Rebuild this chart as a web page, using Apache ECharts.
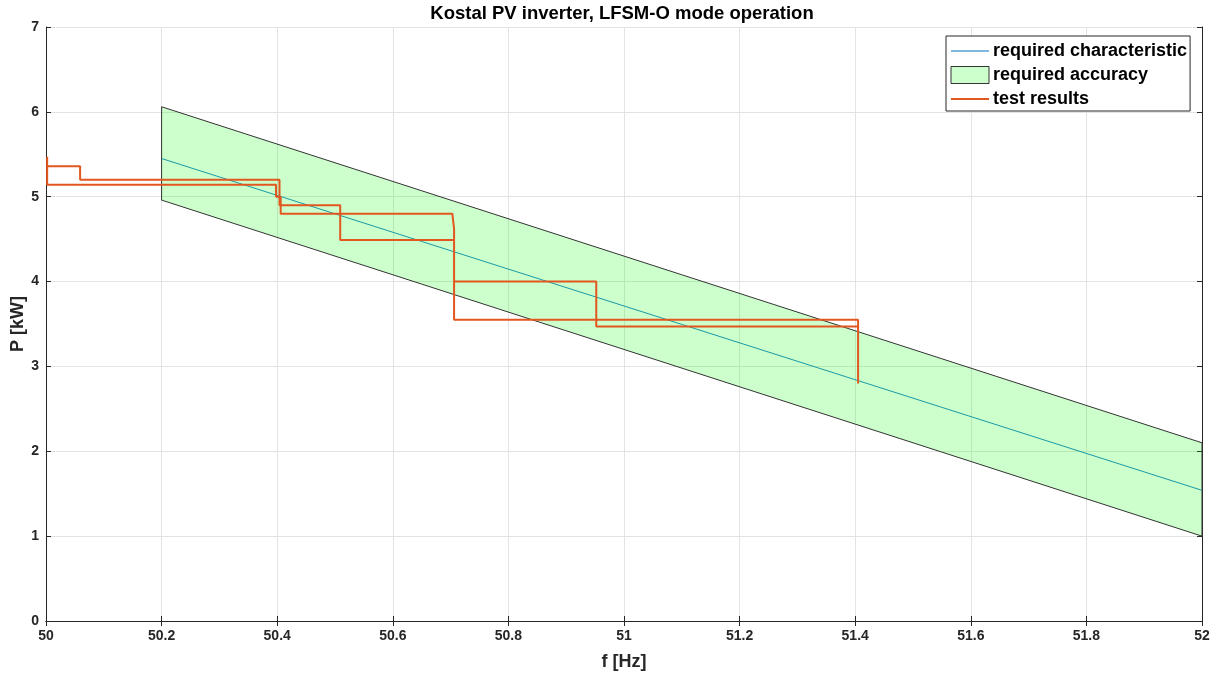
<!DOCTYPE html>
<html>
<head>
<meta charset="utf-8">
<title>Kostal PV inverter, LFSM-O mode operation</title>
<script src="https://cdn.jsdelivr.net/npm/echarts@6/dist/echarts.min.js"></script>
<style>
  html, body { margin: 0; padding: 0; background: #ffffff; }
  #chart { width: 1221px; height: 673px; }
</style>
</head>
<body>
<div id="chart"></div>
<script>
// Required P(f) characteristic for LFSM-O
const charFreq = [50.2, 52.0];
const charPower = [5.45, 1.54];

// Tolerance band around the characteristic
const bandFreq = [50.2, 52.0];
const bandUpper = [6.06, 2.10];
const bandLower = [4.96, 1.00];

// Measured trace (frequency ramp up, then back down)
const testFreq = [50.002, 50.002, 50.059, 50.059, 50.404, 50.404, 50.509, 50.509, 50.706, 50.706,
                  50.952, 50.952, 51.405, 51.405, 51.405, 50.706, 50.706, 50.703, 50.703, 50.406,
                  50.406, 50.398, 50.398, 50.002, 50.002];
const testPower = [5.47, 5.36, 5.36, 5.20, 5.20, 4.90, 4.90, 4.49, 4.49, 4.00,
                   4.00, 3.47, 3.47, 2.80, 3.55, 3.55, 4.62, 4.62, 4.80, 4.80,
                   5.00, 5.00, 5.14, 5.14, 5.36];

const seriesNames = ['required characteristic', 'required accuracy', 'test results'];

const FONT = '"Liberation Sans", Arial, Helvetica, sans-serif';
const INK = '#262626';

const chart = echarts.init(document.getElementById('chart'), null, { renderer: 'canvas' });

const bandData = bandFreq.map((f, i) => [f, bandUpper[i], bandLower[i]]);
const charData = charFreq.map((f, i) => [f, charPower[i]]);
const testData = testFreq.map((f, i) => [f, testPower[i]]);

const axisCommon = {
  axisLine: { show: true, lineStyle: { color: INK, width: 1 } },
  axisTick: { show: true, inside: true, length: 5, lineStyle: { color: INK } }
};

// legend line entries: line only, no marker
const noMarker = { color: 'rgba(0,0,0,0)', borderWidth: 0, opacity: 0 };

chart.setOption({
  animation: false,
  backgroundColor: '#ffffff',
  title: {
    text: 'Kostal PV inverter, LFSM-O mode operation',
    left: 617,
    textAlign: 'center',
    top: -1,
    textStyle: { fontFamily: FONT, fontSize: 18.5, fontWeight: 'bold', color: '#000' }
  },
  legend: {
    orient: 'vertical',
    left: 946,
    top: 36,
    padding: [6, 3, 3, 4],
    itemWidth: 38,
    itemHeight: 17,
    itemGap: 6,
    backgroundColor: '#ffffff',
    borderColor: INK,
    borderWidth: 1,
    textStyle: { fontFamily: FONT, fontSize: 18, fontWeight: 'bold', color: '#000', padding: [0, 0, 0, -1] },
    data: [
      { name: seriesNames[0], itemStyle: noMarker, lineStyle: { color: '#0072BD', width: 1 } },
      { name: seriesNames[1], icon: 'rect', itemStyle: { color: '#ccffcc', borderColor: '#333333', borderWidth: 1 } },
      { name: seriesNames[2], itemStyle: noMarker, lineStyle: { color: '#e2571f', width: 2 } }
    ]
  },
  grid: { left: 46, right: 19, top: 27, bottom: 52, show: false, containLabel: false, outerBoundsMode: 'none' },
  xAxis: [
    Object.assign({
      type: 'value', min: 50, max: 52, interval: 0.2, position: 'bottom',
      name: 'f [Hz]', nameLocation: 'middle', nameGap: 32, nameMoveOverlap: false,
      nameTextStyle: { fontFamily: FONT, fontSize: 18, fontWeight: 'bold', color: INK },
      axisLabel: { margin: 8, fontFamily: FONT, fontSize: 14, fontWeight: 'bold', color: INK },
      splitLine: { show: true, lineStyle: { color: '#e3e3e3', width: 1 } }
    }, axisCommon),
    Object.assign({
      type: 'value', min: 50, max: 52, interval: 0.2, position: 'top',
      axisLabel: { show: false }, splitLine: { show: false }
    }, axisCommon)
  ],
  yAxis: [
    Object.assign({
      type: 'value', min: 0, max: 7, interval: 1, position: 'left',
      name: 'P [kW]', nameLocation: 'middle', nameGap: 19, nameMoveOverlap: false,
      nameTextStyle: { fontFamily: FONT, fontSize: 18, fontWeight: 'bold', color: INK },
      axisLabel: { margin: 7, fontFamily: FONT, fontSize: 14, fontWeight: 'bold', color: INK },
      splitLine: { show: true, lineStyle: { color: '#e3e3e3', width: 1 } }
    }, axisCommon),
    Object.assign({
      type: 'value', min: 0, max: 7, interval: 1, position: 'right',
      axisLabel: { show: false }, splitLine: { show: false }
    }, axisCommon)
  ],
  series: [
    {
      name: seriesNames[0],
      type: 'line',
      data: charData,
      symbol: 'none',
      lineStyle: { color: '#1a9aa6', width: 1 },
      itemStyle: { color: '#1a9aa6' },
      z: 3
    },
    {
      name: seriesNames[1],
      type: 'custom',
      data: bandData,
      itemStyle: { color: '#ccffcc' },
      z: 2,
      renderItem: function (params, api) {
        if (params.dataIndex !== 0) return;
        const pts = [];
        for (let i = 0; i < bandData.length; i++) {
          pts.push(api.coord([bandData[i][0], bandData[i][1]]));
        }
        for (let i = bandData.length - 1; i >= 0; i--) {
          pts.push(api.coord([bandData[i][0], bandData[i][2]]));
        }
        return {
          type: 'polygon',
          shape: { points: pts },
          style: { fill: 'rgba(0,255,0,0.2)', stroke: '#333333', lineWidth: 1 }
        };
      }
    },
    {
      name: seriesNames[2],
      type: 'line',
      data: testData,
      symbol: 'none',
      lineStyle: { color: '#e2571f', width: 2 },
      itemStyle: { color: '#e2571f' },
      z: 4
    }
  ]
});
</script>
</body>
</html>
